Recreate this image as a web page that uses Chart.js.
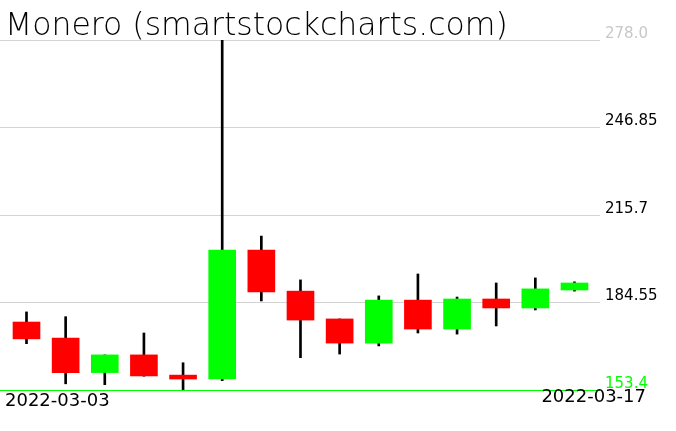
<!DOCTYPE html>
<html>
<head>
<meta charset="utf-8">
<script src="https://cdn.jsdelivr.net/npm/chart.js@4/dist/chart.umd.min.js"></script>
<style>
html,body{margin:0;padding:0;background:#fff;}
#wrap{width:676px;height:431px;position:relative;}
</style>
</head>
<body>
<div id="wrap"><canvas id="c" width="676" height="431"></canvas></div>
<script>
const dates = ["2022-03-03","2022-03-04","2022-03-05","2022-03-06","2022-03-07","2022-03-08","2022-03-09","2022-03-10","2022-03-11","2022-03-12","2022-03-13","2022-03-14","2022-03-15","2022-03-16","2022-03-17"];
const opens  = [177.6,171.9,159.6,165.9,158.7,157.3,203.2,188.6,178.7,170.1,185.4,175.1,185.8,182.6,189.0];
const highs  = [181.2,179.5,165.9,173.7,163.1,278.0,208.2,192.6,178.7,186.9,194.7,186.5,191.5,193.3,191.9];
const lows   = [169.9,155.6,155.3,158.3,153.4,156.7,185.1,164.9,166.2,169.1,173.7,173.3,176.2,181.9,188.6];
const closes = [171.6,159.6,165.9,158.4,157.3,203.2,188.3,178.3,170.1,185.4,175.1,185.8,182.6,189.4,191.5];
const tickValues = [153.4,184.55,215.7,246.85,278.0];
const tickLabels = ["153.4","184.55","215.7","246.85","278.0"];
const titleText = "Monero (smartstockcharts.com)";

const bodies = dates.map((d,i)=>({x:i,y:[opens[i],closes[i]]}));
const wicks = dates.map((d,i)=>({x:i,y:[lows[i],highs[i]]}));
const bodyColors = dates.map((d,i)=> closes[i]>=opens[i] ? "#00ff00" : "#ff0000");

const textPlugin = {
  id:"texts",
  afterDraw(chart){
    const ctx = chart.ctx;
    ctx.save();
    ctx.fillStyle = "#000";
    ctx.textBaseline = "alphabetic";
    ctx.textAlign = "left";
    ctx.font = "200 31.5px 'DejaVu Sans'";
    ctx.fillText(titleText, 5, 35);
    ctx.font = "18px 'DejaVu Sans'";
    ctx.fillText(dates[0], 5, 406);
    ctx.textAlign = "right";
    ctx.fillText(dates[dates.length-1], 646, 402);
    ctx.restore();
  }
};

new Chart(document.getElementById("c"), {
  type:"bar",
  data:{
    datasets:[
      {label:"body", data:bodies, backgroundColor:bodyColors, borderWidth:0, barThickness:27, grouped:false, order:0},
      {label:"wick", data:wicks, backgroundColor:"#000", borderWidth:0, barThickness:2, grouped:false, order:1}
    ]
  },
  options:{
    responsive:false,
    animation:false,
    layout:{padding:{top:40,bottom:41,left:0,right:0}},
    plugins:{legend:{display:false},tooltip:{enabled:false},title:{display:false}},
    scales:{
      x:{type:"linear", display:false, offset:false, min:-0.677, max:14.652},
      y:{
        position:"right",
        min:153.4, max:278.0,
        afterBuildTicks(axis){ axis.ticks = tickValues.map(v=>({value:v})); },
        afterFit(axis){ axis.width = 76; },
        border:{display:false},
        grid:{drawTicks:false, color:(c)=> c.index===0 ? "#00ff00" : "#d3d3d3", lineWidth:1},
        ticks:{
          padding:5,
          labelOffset:-6,
          font:{family:"DejaVu Sans", size:15},
          color:(c)=> c.index===0 ? "#00ff00" : (c.index===tickValues.length-1 ? "#c8c8c8" : "#000"),
          callback:(v,i)=> tickLabels[i]
        }
      }
    }
  },
  plugins:[textPlugin]
});
</script>
</body>
</html>
